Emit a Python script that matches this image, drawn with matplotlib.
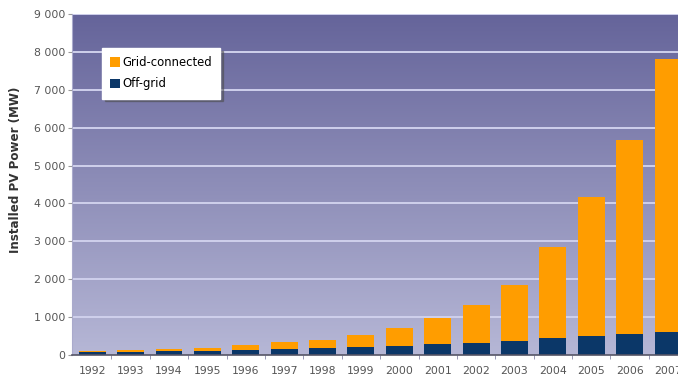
import numpy as np
import matplotlib
matplotlib.use("Agg")
import matplotlib.pyplot as plt
from matplotlib.colors import LinearSegmentedColormap

#==# DATA #==#
years = [str(y) for y in range(1992, 2008)]
total = [110, 136, 163, 198, 260, 340, 399, 520, 725, 983, 1330, 1850, 2840, 4180, 5680, 7820]
off_grid = [78, 88, 98, 105, 120, 165, 190, 218, 244, 288, 325, 378, 440, 500, 548, 615]
grid_connected = [t - o for t, o in zip(total, off_grid)]

yticks = np.arange(0, 9001, 1000)
ytick_labels = ["0"] + ["%d 000" % (v // 1000) for v in yticks[1:]]

c_grid = "#ff9d00"
c_off = "#0b3768"

#==# FIGURE #==#
fig = plt.figure(figsize=(6.78, 3.84), dpi=100)
ax = fig.add_axes([0.106, 0.0755, 0.894, 0.888])

x = np.arange(len(years))

# gradient background
bg = LinearSegmentedColormap.from_list("bg", ["#b6b7d6", "#65649a"])
grad = np.linspace(0, 1, 256).reshape(-1, 1)
ax.imshow(grad, cmap=bg, origin="lower", extent=[0, 1, 0, 1],
          transform=ax.transAxes, aspect="auto", zorder=0)

for v in yticks[1:]:
    ax.axhline(v, color="#cfd0ec", lw=1.4, zorder=1)

ax.bar(x, off_grid, width=0.7, color=c_off, zorder=2, label="Off-grid")
ax.bar(x, grid_connected, width=0.7, bottom=off_grid, color=c_grid, zorder=2,
       label="Grid-connected")

ax.set_xlim(-0.53, 15.26)
ax.set_ylim(0, 9000)

ax.set_yticks(yticks)
ax.set_yticklabels(ytick_labels, fontsize=7.8, color="#555555")
ax.set_xticks(x)
ax.set_xticklabels(years, fontsize=7.8, color="#555555")
ax.set_xticks(x[:-1] + 0.5, minor=True)
ax.tick_params(axis="x", which="major", length=0, pad=8)
ax.tick_params(axis="x", which="minor", length=3, color="#8888aa")
ax.tick_params(axis="y", length=3, color="#999999", pad=2)

for s in ["top", "right"]:
    ax.spines[s].set_visible(False)
ax.spines["left"].set_color("#aaaacc")
ax.spines["bottom"].set_color("#555566")
ax.spines["bottom"].set_linewidth(1.2)

ax.set_ylabel("Installed PV Power (MW)", fontsize=8.6, fontweight="bold",
              color="#333333")
ax.yaxis.set_label_coords(-0.083, 0.543)

handles, labels = ax.get_legend_handles_labels()
leg = ax.legend(handles[::-1], labels[::-1], loc="upper left",
                bbox_to_anchor=(0.05, 0.9), fontsize=8.4, frameon=True,
                fancybox=False, shadow=True, handlelength=0.8, handleheight=0.9,
                handletextpad=0.2, labelspacing=0.7, borderpad=0.7,
                borderaxespad=0)
leg.get_frame().set_edgecolor("white")
leg.get_frame().set_facecolor("white")
leg.get_frame().set_alpha(1)

plt.savefig("out.png", dpi=100)
